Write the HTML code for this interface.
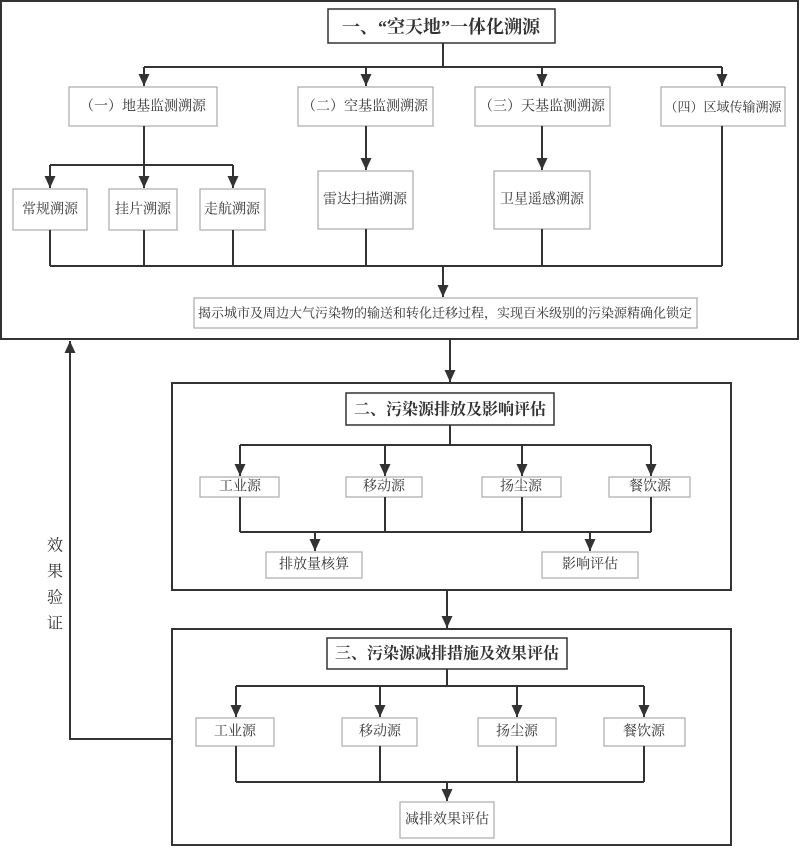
<!DOCTYPE html>
<html><head><meta charset="utf-8"><style>
html,body{margin:0;padding:0;background:#fff;}
svg text{font-family:"Liberation Serif","Noto Serif CJK SC",serif;fill:#333;}
</style></head><body>
<svg width="800" height="847" viewBox="0 0 800 847" xmlns="http://www.w3.org/2000/svg">
<defs>
<marker id="a" markerWidth="14" markerHeight="12" refX="12" refY="5.5" orient="auto" markerUnits="userSpaceOnUse">
<path d="M0,0 L12,5.5 L0,11 Z" fill="#333"/></marker>
</defs>
<g fill="none" stroke="#333" stroke-width="2">
<rect x="1" y="1" width="797" height="338"/>
<rect x="172" y="383" width="559" height="207"/>
<rect x="172" y="629" width="559" height="216"/>
<rect x="328" y="9" width="227" height="34" stroke-width="1.5"/>
<rect x="346" y="393" width="208" height="32" stroke-width="1.5"/>
<rect x="327" y="638" width="240" height="31" stroke-width="1.5"/>
</g>
<g fill="#fff" stroke="#aaa" stroke-width="1.2">
<rect x="69" y="87" width="148" height="39"/>
<rect x="298" y="87" width="135" height="39"/>
<rect x="475" y="87" width="135" height="39"/>
<rect x="661" y="87" width="124" height="39"/>
<rect x="13" y="189" width="74" height="41"/>
<rect x="109" y="189" width="68" height="41"/>
<rect x="200" y="189" width="65" height="41"/>
<rect x="318" y="171" width="95" height="58"/>
<rect x="494" y="171" width="96" height="58"/>
<rect x="194" y="298" width="503" height="30"/>
<rect x="200" y="477" width="79" height="20"/>
<rect x="346" y="477" width="76" height="20"/>
<rect x="482" y="477" width="79" height="20"/>
<rect x="609" y="477" width="81" height="20"/>
<rect x="266" y="552" width="96" height="26"/>
<rect x="542" y="552" width="96" height="26"/>
<rect x="196" y="718" width="78" height="28"/>
<rect x="342" y="718" width="75" height="28"/>
<rect x="478" y="718" width="78" height="28"/>
<rect x="604" y="718" width="81" height="28"/>
<rect x="400" y="802" width="94" height="36"/>
</g>
<g fill="none" stroke="#333" stroke-width="2">
<path d="M443,43 V67 M144,67 H722"/>
<path d="M144,67 V86" marker-end="url(#a)"/>
<path d="M366,67 V86" marker-end="url(#a)"/>
<path d="M542,67 V86" marker-end="url(#a)"/>
<path d="M722,67 V86" marker-end="url(#a)"/>
<path d="M144,126 V165 M50,165 H233"/>
<path d="M50,165 V188" marker-end="url(#a)"/>
<path d="M144,165 V188" marker-end="url(#a)"/>
<path d="M233,165 V188" marker-end="url(#a)"/>
<path d="M366,126 V170" marker-end="url(#a)"/>
<path d="M542,126 V170" marker-end="url(#a)"/>
<path d="M50,230 V266 M144,230 V266 M233,230 V266 M366,229 V266 M542,229 V266 M722,126 V266 M50,266 H722"/>
<path d="M443,266 V297" marker-end="url(#a)"/>
<path d="M450,339 V382" marker-end="url(#a)"/>
<path d="M450,425 V445 M240,445 H651"/>
<path d="M240,445 V476" marker-end="url(#a)"/>
<path d="M385,445 V476" marker-end="url(#a)"/>
<path d="M522,445 V476" marker-end="url(#a)"/>
<path d="M651,445 V476" marker-end="url(#a)"/>
<path d="M240,497 V532 M385,497 V532 M522,497 V532 M651,497 V532 M240,532 H651"/>
<path d="M315,532 V551" marker-end="url(#a)"/>
<path d="M590,532 V551" marker-end="url(#a)"/>
<path d="M447,590 V628" marker-end="url(#a)"/>
<path d="M447,669 V686 M236,686 H644"/>
<path d="M236,686 V717" marker-end="url(#a)"/>
<path d="M380,686 V717" marker-end="url(#a)"/>
<path d="M517,686 V717" marker-end="url(#a)"/>
<path d="M644,686 V717" marker-end="url(#a)"/>
<path d="M236,746 V782 M380,746 V782 M517,746 V782 M644,746 V782 M236,782 H644"/>
<path d="M447,782 V801" marker-end="url(#a)"/>
<path d="M172,739 H70 V341" marker-end="url(#a)"/>
</g>
<g font-size="14" text-anchor="middle" dominant-baseline="central">
<text x="441" y="27" font-size="18" font-weight="bold">一、“空天地”一体化溯源</text>
<text x="143" y="107">（一）地基监测溯源</text>
<text x="365" y="107">（二）空基监测溯源</text>
<text x="542" y="107">（三）天基监测溯源</text>
<text x="723" y="107" font-size="13">（四）区域传输溯源</text>
<text x="50" y="210">常规溯源</text>
<text x="143" y="210">挂片溯源</text>
<text x="232" y="210">走航溯源</text>
<text x="365" y="200">雷达扫描溯源</text>
<text x="542" y="200">卫星遥感溯源</text>
<text x="445" y="313" font-size="13">揭示城市及周边大气污染物的输送和转化迁移过程，实现百米级别的污染源精确化锁定</text>
<text x="450" y="410" font-size="16" font-weight="bold">二、污染源排放及影响评估</text>
<text x="240" y="487">工业源</text>
<text x="384" y="487">移动源</text>
<text x="521" y="487">扬尘源</text>
<text x="650" y="487">餐饮源</text>
<text x="314" y="565">排放量核算</text>
<text x="590" y="565">影响评估</text>
<text x="447" y="654" font-size="16" font-weight="bold">三、污染源减排措施及效果评估</text>
<text x="235" y="732">工业源</text>
<text x="380" y="732">移动源</text>
<text x="517" y="732">扬尘源</text>
<text x="644" y="732">餐饮源</text>
<text x="447" y="820">减排效果评估</text>
<text x="55" y="546" font-size="16">效</text>
<text x="55" y="572" font-size="16">果</text>
<text x="55" y="598" font-size="16">验</text>
<text x="55" y="624" font-size="16">证</text>
</g>
</svg>
</body></html>
